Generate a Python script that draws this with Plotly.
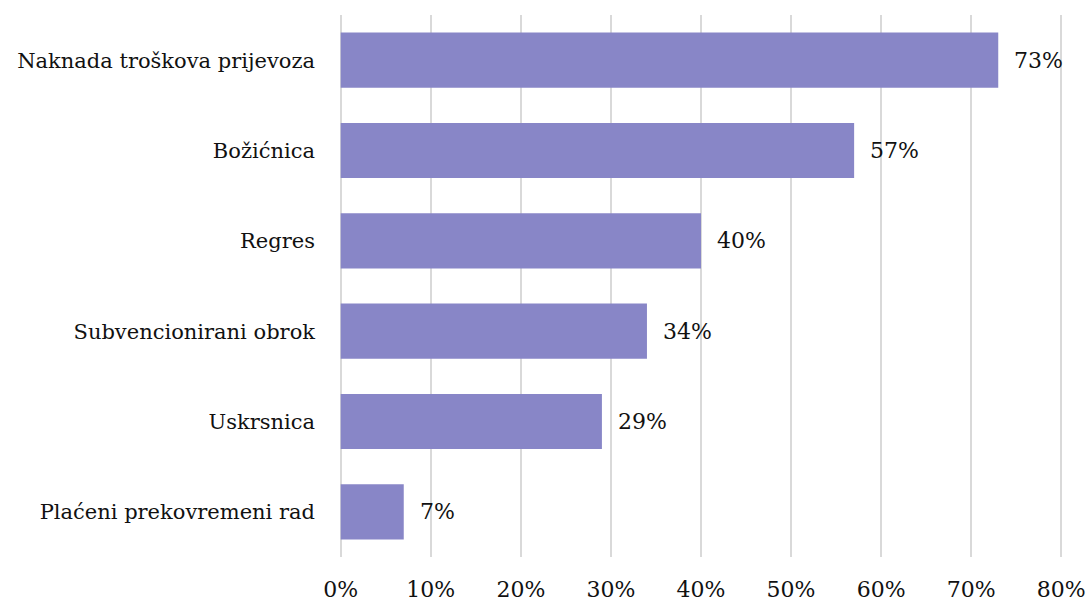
import plotly.graph_objects as go

categories = [
    "Naknada troškova prijevoza",
    "Božićnica",
    "Regres",
    "Subvencionirani obrok",
    "Uskrsnica",
    "Plaćeni prekovremeni rad",
]
values = [73, 57, 40, 34, 29, 7]
x_ticks = [0, 10, 20, 30, 40, 50, 60, 70, 80]
x_tick_labels = [f"{v}%" for v in x_ticks]

FONT = "DejaVu Serif"
CAT_SIZE = 21
NUM_SIZE = 22
BAR_COLOR = "#8886C7"
TEXT_COLOR = "#111111"

fig = go.Figure(
    go.Bar(
        x=values,
        y=categories,
        orientation="h",
        marker=dict(color=BAR_COLOR, line=dict(width=0)),
        width=0.61,
        hoverinfo="skip",
    )
)

# value labels just past the end of each bar
for cat, val in zip(categories, values):
    fig.add_annotation(
        x=val, y=cat, text=f"{val}%", showarrow=False,
        xanchor="left", xshift=14,
        font=dict(family=FONT, size=NUM_SIZE, color=TEXT_COLOR),
    )

fig.update_layout(
    width=1089, height=604,
    margin=dict(l=338, r=25, t=15, b=47),
    paper_bgcolor="white", plot_bgcolor="white",
    showlegend=False,
    font=dict(family=FONT, size=CAT_SIZE, color=TEXT_COLOR),
)
fig.update_xaxes(
    range=[-0.3, 80.3], tickmode="array",
    tickvals=x_ticks, ticktext=x_tick_labels,
    showgrid=True, gridcolor="#d9d9d9", gridwidth=2,
    zeroline=False, showline=False, ticks="",
    ticklabelstandoff=17, automargin=False,
    tickfont=dict(family=FONT, size=NUM_SIZE, color=TEXT_COLOR),
)
fig.update_yaxes(
    categoryorder="array", categoryarray=categories[::-1],
    range=[-0.5, 5.5],
    showgrid=False, zeroline=False, showline=False, ticks="",
    ticklabelstandoff=22, automargin=False,
    tickfont=dict(family=FONT, size=CAT_SIZE, color=TEXT_COLOR),
)

fig.write_html("out.html")
